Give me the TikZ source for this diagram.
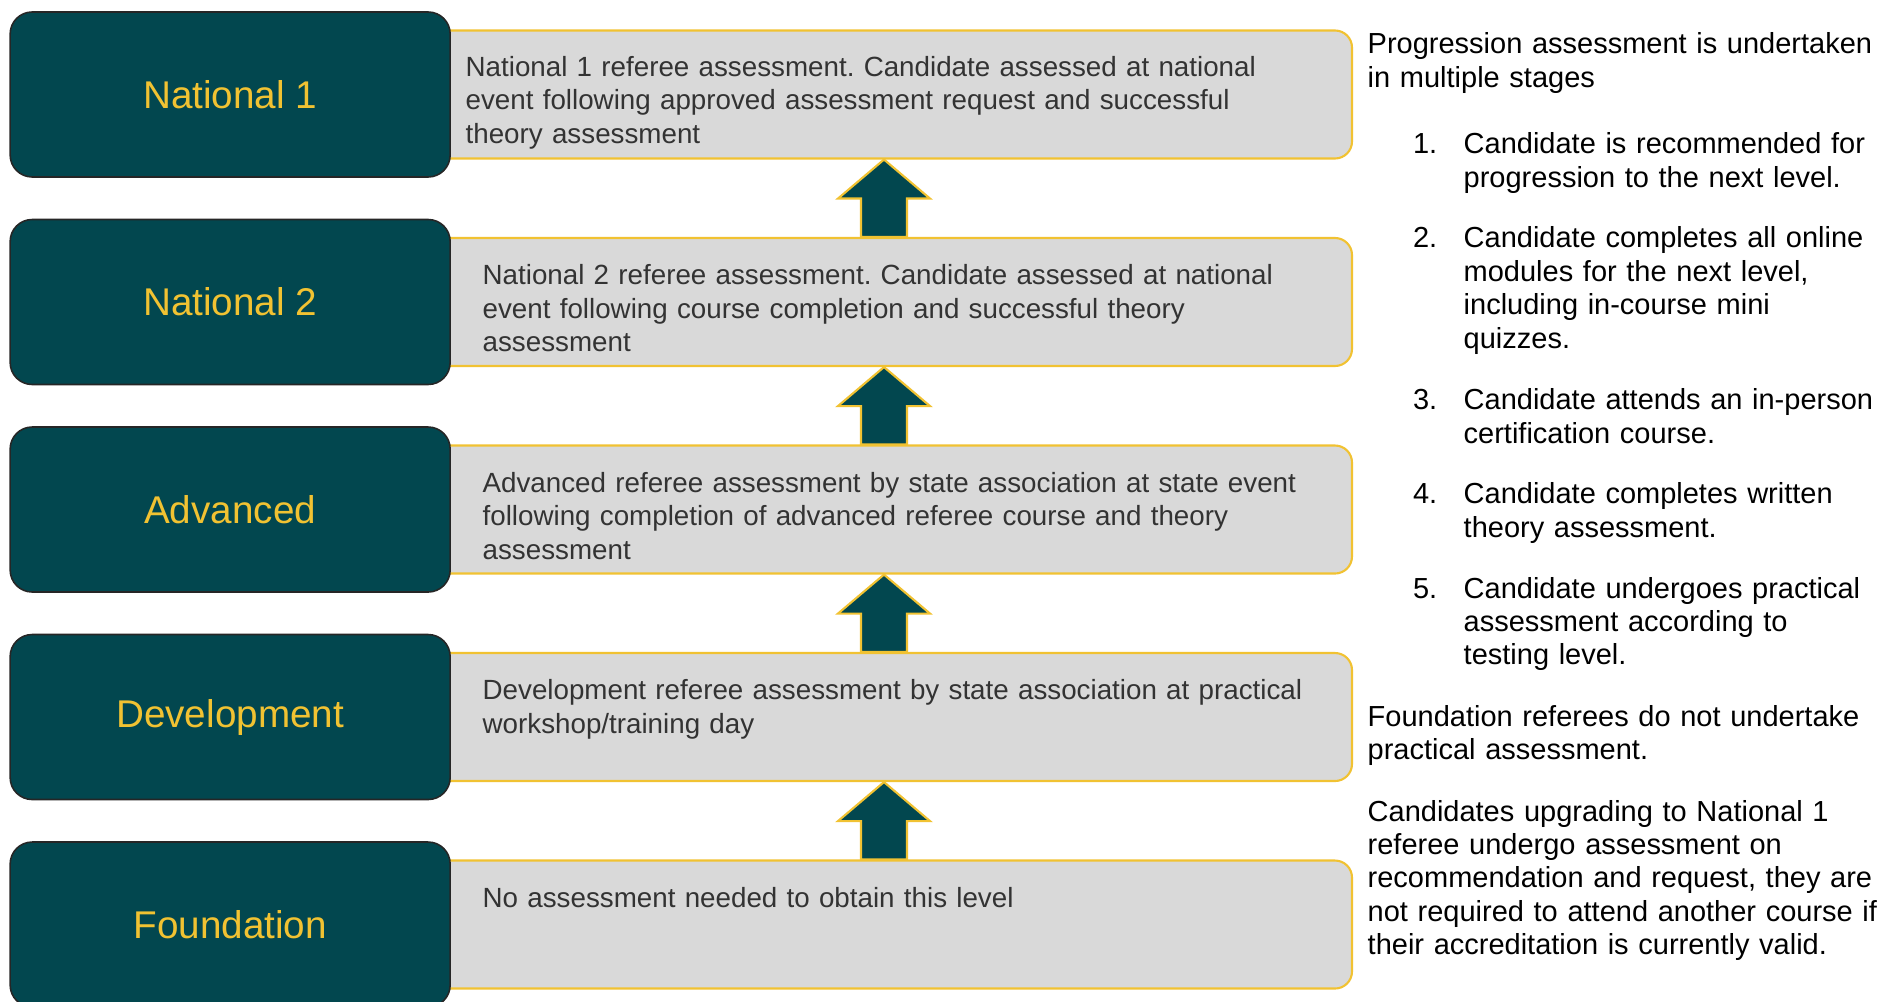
\documentclass[tikz,border=0pt]{standalone}
\usepackage{fontspec}
\setmainfont{Liberation Sans}
\usetikzlibrary{positioning,calc}
\definecolor{deepteal}{HTML}{02474F}
\definecolor{gold}{HTML}{F1C232}
\definecolor{panelgrey}{HTML}{D9D9D9}
\definecolor{ink}{HTML}{333333}
\frenchspacing

\begin{document}
\begin{tikzpicture}[node distance=0.774cm,
	level/.style={rectangle, rounded corners=0.22cm, draw=black!85, line width=0.45pt, fill=deepteal, text=gold, minimum width=4.4cm, minimum height=1.65cm, font=\fontsize{11}{13}\selectfont},
	panel/.style={rectangle, rounded corners=0.17cm, draw=gold, line width=0.6pt, fill=panelgrey, minimum width=10cm, minimum height=1.28cm},
	panel text/.style={anchor=base west, inner sep=0pt, text width=8.8cm, align=left, text=ink, font=\fontsize{7.9}{9.5}\selectfont},
	side text/.style={anchor=base west, inner sep=0pt, text width=6cm, align=left, font=\fontsize{8.25}{9.5}\selectfont},
	up arrow/.style={draw=gold, fill=deepteal, line width=0.6pt, line join=miter}]
	\useasboundingbox (0,0) rectangle (18.78,-10.02);
	% grey description panels
	\node[panel] (D1) at (8.52,-0.945) {};
	\node[panel] (D2) [below=of D1] {};
	\node[panel] (D3) [below=of D2] {};
	\node[panel] (D4) [below=of D3] {};
	\node[panel] (D5) [below=of D4] {};
	% levels
	\node[level] (L1) [left=-1cm of D1] {National 1};
	\node[level] (L2) [left=-1cm of D2] {National 2};
	\node[level] (L3) [left=-1cm of D3] {Advanced};
	\node[level] (L4) [left=-1cm of D4] {Development};
	\node[level] (L5) [left=-1cm of D5] {Foundation};
	% panel texts
	\node[panel text] (T1) at ($(L1.east |- D1.north)+(0.14,-0.47)$) {National 1 referee assessment. Candidate assessed at national\\event following approved assessment request and successful\\theory assessment};
	\node[panel text] (T2) at ($(L2.east |- D2.north)+(0.31,-0.48)$) {National 2 referee assessment. Candidate assessed at national\\event following course completion and successful theory\\assessment};
	\node[panel text] (T3) at ($(L3.east |- D3.north)+(0.31,-0.48)$) {Advanced referee assessment by state association at state event\\following completion of advanced referee course and theory\\assessment};
	\node[panel text] (T4) at ($(L4.east |- D4.north)+(0.31,-0.48)$) {Development referee assessment by state association at practical\\workshop/training day};
	\node[panel text] (T5) at ($(L5.east |- D5.north)+(0.31,-0.48)$) {No assessment needed to obtain this level};
	% arrows between panels
	\coordinate (A) at (8.84,0);
	\foreach \lo/\hi in {D2/D1, D3/D2, D4/D3, D5/D4}
		\draw[up arrow] (\hi.south -| A) -- ++(0.46,-0.39) -- ++(-0.23,0) -- ($(\lo.north -| A)+(0.23,0)$) -- ($(\lo.north -| A)+(-0.23,0)$) |- ($(\hi.south -| A)+(-0.46,-0.39)$) -- cycle;
	% side notes
	\node[side text] (intro) at (13.67,-0.54) {Progression assessment is undertaken\\in multiple stages};
	\foreach \n/\y/\txt in {1/1.54/{Candidate is recommended for\\progression to the next level.},
		2/2.48/{Candidate completes all online\\modules for the next level,\\including in-course mini\\quizzes.},
		3/4.10/{Candidate attends an in-person\\certification course.},
		4/5.04/{Candidate completes written\\theory assessment.},
		5/5.98/{Candidate undergoes practical\\assessment according to\\testing level.}}
	{
		\node[side text, anchor=base east, text width=] (num\n) at (14.38,-\y) {\n.};
		\node[side text] (step\n) at (14.63,-\y) {\txt};
	}
	\node[side text] (found) at (13.67,-7.26) {Foundation referees do not undertake\\practical assessment.};
	\node[side text] (upgrade) at (13.67,-8.21) {Candidates upgrading to National 1\\referee undergo assessment on\\recommendation and request, they are\\not required to attend another course if\\their accreditation is currently valid.};
\end{tikzpicture}
\end{document}
